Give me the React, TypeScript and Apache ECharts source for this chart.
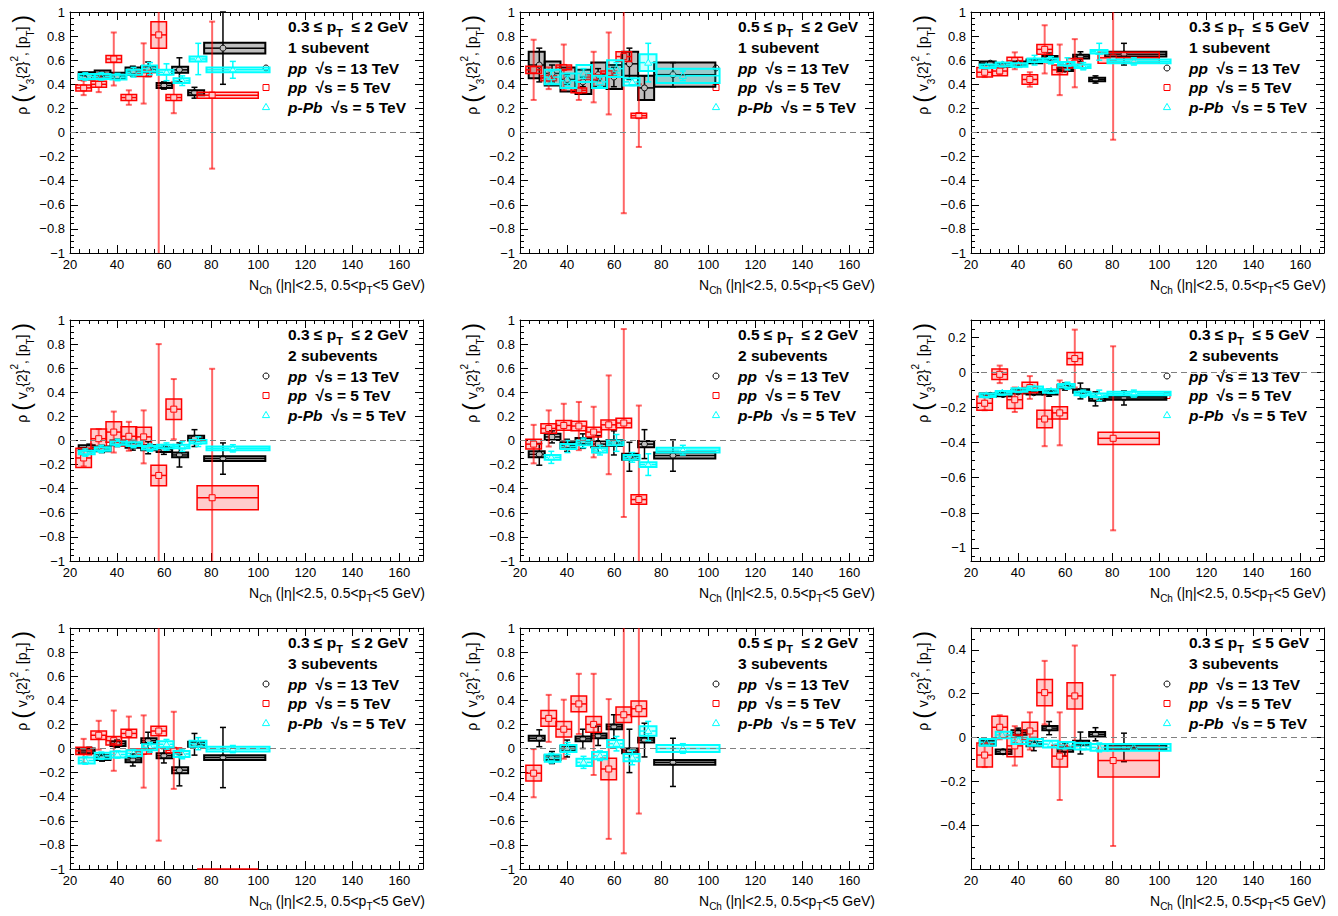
import React, { useEffect, useRef } from 'react';
import * as echarts from 'echarts';

const FONT = '"Liberation Sans", Arial, Helvetica, sans-serif';

// ---------- x positions / bins ----------
const X_PP13 = [28.2, 33.6, 40, 46.7, 53.2, 59.9, 66.5, 72.9, 85];
const BINS_PP13 = [23.7, 30.5, 37.2, 43.6, 50.3, 56.8, 63.4, 70.2, 77, 103];

const X_PP5_A = [25.8, 32.2, 38.6, 45, 51.3, 57.7, 64.1, 80.4];
const LO_PP5_A = [22.5, 28.9, 35.3, 41.7, 48, 54.4, 60.8, 74];
const HI_PP5_A = [29.1, 35.5, 41.9, 48.3, 54.6, 61, 67.4, 100];
const X_PP5_B = [25.8, 32.2, 38.6, 45, 51.3, 57.7, 64.1, 70.5];
const LO_PP5_B = [22.5, 28.9, 35.3, 41.7, 48, 54.4, 60.8, 67.2];
const HI_PP5_B = [29.1, 35.5, 41.9, 48.3, 54.6, 61, 67.4, 73.8];

const X_PPB_A = [26.5, 33.3, 40.2, 47, 54, 61, 67.7, 74.5, 89.2];
const BINS_PPB_A = [23.7, 30.5, 37.2, 44, 50.6, 57, 64, 70.8, 78, 104.8];
const X_PPB_B = [33.3, 40.2, 47, 54, 61, 67.7, 74.5, 89.2];
const BINS_PPB_B = [30.5, 37.2, 44, 50.6, 57, 64, 70.8, 78, 104.8];

// ---------- values: [rho, stat, syst] ----------
const P1_PP13 = [[0.47, 0.02, 0.03], [0.49, 0.02, 0.025], [0.47, 0.02, 0.025], [0.51, 0.04, 0.03], [0.525, 0.06, 0.025], [0.39, 0.03, 0.02], [0.52, 0.1, 0.025], [0.33, 0.045, 0.02], [0.7, 0.3, 0.045]];
const P1_PP5 = [[0.37, 0.06, 0.025], [0.4, 0.065, 0.025], [0.61, 0.22, 0.03], [0.29, 0.06, 0.025], [0.49, 0.25, 0.025], [0.81, 2, 0.11], [0.29, 0.13, 0.025], [0.31, 0.61, 0.025]];
const P1_PPB = [[0.465, 0.03, 0.02], [0.465, 0.03, 0.02], [0.46, 0.03, 0.02], [0.5, 0.04, 0.02], [0.53, 0.05, 0.025], [0.5, 0.07, 0.02], [0.43, 0.04, 0.02], [0.61, 0.13, 0.02], [0.52, 0.07, 0.02]];

const P2_PP13 = [[0.56, 0.14, 0.11], [0.49, 0.07, 0.1], [0.44, 0.04, 0.1], [0.42, 0.04, 0.1], [0.48, 0.05, 0.1], [0.46, 0.08, 0.1], [0.57, 0.13, 0.1], [0.37, 0.1, 0.1], [0.48, 0.1, 0.1]];
const P2_PP5 = [[0.52, 0.25, 0.03], [0.45, 0.09, 0.02], [0.54, 0.19, 0.02], [0.35, 0.08, 0.02], [0.46, 0.21, 0.02], [0.49, 0.34, 0.02], [0.63, 1.3, 0.04], [0.14, 0.26, 0.02]];
const P2_PPB = [[0.46, 0.05, 0.06], [0.43, 0.04, 0.06], [0.49, 0.04, 0.07], [0.42, 0.04, 0.05], [0.53, 0.05, 0.07], [0.42, 0.03, 0.03], [0.58, 0.16, 0.07], [0.47, 0.04, 0.06]];

const P3_PP13 = [[0.575, 0.01, 0.015], [0.56, 0.01, 0.015], [0.575, 0.015, 0.015], [0.59, 0.02, 0.015], [0.62, 0.04, 0.015], [0.525, 0.02, 0.015], [0.63, 0.04, 0.015], [0.44, 0.03, 0.015], [0.65, 0.09, 0.02]];
const P3_PP5 = [[0.5, 0.04, 0.04], [0.51, 0.03, 0.04], [0.595, 0.07, 0.03], [0.44, 0.06, 0.04], [0.69, 0.2, 0.04], [0.52, 0.21, 0.04], [0.575, 0.2, 0.04], [0.62, 0.68, 0.045]];
const P3_PPB = [[0.55, 0.02, 0.015], [0.565, 0.02, 0.015], [0.56, 0.02, 0.015], [0.6, 0.04, 0.015], [0.6, 0.03, 0.015], [0.57, 0.05, 0.015], [0.55, 0.03, 0.015], [0.67, 0.07, 0.015], [0.59, 0.03, 0.015]];

const P4_PP13 = [[-0.06, 0.03, 0.02], [-0.07, 0.03, 0.02], [-0.02, 0.03, 0.02], [-0.04, 0.04, 0.02], [-0.06, 0.05, 0.02], [-0.075, 0.04, 0.02], [-0.12, 0.1, 0.02], [0.02, 0.07, 0.02], [-0.15, 0.13, 0.02]];
const P4_PP5 = [[-0.145, 0.07, 0.08], [0.015, 0.08, 0.08], [0.07, 0.17, 0.085], [0.035, 0.12, 0.08], [0.03, 0.22, 0.08], [-0.29, 1.09, 0.085], [0.26, 0.25, 0.085], [-0.475, 1.07, 0.1]];
const P4_PPB = [[-0.1, 0.03, 0.015], [-0.07, 0.03, 0.015], [-0.02, 0.03, 0.015], [-0.03, 0.03, 0.015], [-0.06, 0.03, 0.015], [-0.05, 0.03, 0.015], [-0.05, 0.04, 0.015], [-0.01, 0.04, 0.015], [-0.065, 0.03, 0.015]];

const P5_PP13 = [[-0.115, 0.09, 0.025], [0.03, 0.05, 0.025], [-0.04, 0.05, 0.025], [-0.005, 0.06, 0.025], [-0.03, 0.07, 0.025], [-0.02, 0.1, 0.025], [-0.135, 0.12, 0.025], [-0.03, 0.12, 0.025], [-0.125, 0.13, 0.025]];
const P5_PP5 = [[-0.03, 0.16, 0.04], [0.1, 0.15, 0.04], [0.125, 0.18, 0.04], [0.12, 0.2, 0.04], [0.07, 0.21, 0.04], [0.13, 0.41, 0.04], [0.145, 0.78, 0.04], [-0.49, 0.78, 0.04]];
const P5_PPB = [[-0.14, 0.05, 0.02], [-0.05, 0.05, 0.02], [-0.02, 0.04, 0.02], [-0.08, 0.04, 0.02], [-0.02, 0.07, 0.02], [-0.14, 0.04, 0.02], [-0.2, 0.09, 0.02], [-0.08, 0.04, 0.02]];

const P6_PP13 = [[-0.13, 0.01, 0.01], [-0.125, 0.01, 0.01], [-0.11, 0.015, 0.01], [-0.115, 0.015, 0.01], [-0.115, 0.02, 0.01], [-0.08, 0.02, 0.01], [-0.105, 0.045, 0.01], [-0.15, 0.04, 0.01], [-0.145, 0.04, 0.01]];
const P6_PP5 = [[-0.175, 0.04, 0.04], [-0.01, 0.05, 0.03], [-0.155, 0.07, 0.05], [-0.085, 0.065, 0.03], [-0.265, 0.155, 0.05], [-0.23, 0.185, 0.035], [0.08, 0.165, 0.035], [-0.375, 0.525, 0.035]];
const P6_PPB = [[-0.13, 0.01, 0.01], [-0.115, 0.01, 0.01], [-0.1, 0.015, 0.01], [-0.09, 0.015, 0.01], [-0.105, 0.015, 0.01], [-0.075, 0.02, 0.01], [-0.12, 0.02, 0.01], [-0.13, 0.03, 0.01], [-0.12, 0.02, 0.01]];

const P7_PP13 = [[-0.02, 0.03, 0.02], [-0.075, 0.03, 0.02], [0.04, 0.03, 0.02], [-0.095, 0.05, 0.02], [0.065, 0.07, 0.02], [-0.06, 0.06, 0.02], [-0.18, 0.13, 0.025], [0.035, 0.09, 0.02], [-0.075, 0.25, 0.02]];
const P7_PP5 = [[-0.02, 0.1, 0.03], [0.11, 0.12, 0.035], [0.065, 0.25, 0.035], [0.125, 0.14, 0.035], [-0.025, 0.3, 0.02], [0.145, 0.91, 0.04], [-0.015, 0.32, 0.02], [-1.5, 0.3, 0.1]];
const P7_PPB = [[-0.1, 0.03, 0.025], [-0.06, 0.03, 0.025], [-0.05, 0.03, 0.025], [-0.04, 0.03, 0.025], [0.01, 0.04, 0.025], [0.035, 0.04, 0.025], [-0.045, 0.04, 0.025], [0.04, 0.05, 0.025], [-0.005, 0.03, 0.02]];

const P8_PP13 = [[0.085, 0.07, 0.02], [-0.075, 0.05, 0.02], [0.0, 0.07, 0.02], [0.08, 0.08, 0.02], [0.105, 0.08, 0.02], [0.18, 0.1, 0.02], [-0.02, 0.18, 0.02], [0.07, 0.14, 0.02], [-0.115, 0.2, 0.02]];
const P8_PP5 = [[-0.205, 0.2, 0.065], [0.25, 0.195, 0.065], [0.16, 0.245, 0.065], [0.37, 0.25, 0.065], [0.2, 0.42, 0.065], [-0.17, 0.58, 0.09], [0.28, 1.15, 0.065], [0.33, 0.87, 0.065]];
const P8_PPB = [[-0.08, 0.04, 0.03], [0.0, 0.05, 0.03], [-0.115, 0.05, 0.03], [-0.06, 0.04, 0.03], [0.04, 0.06, 0.03], [-0.075, 0.06, 0.03], [0.145, 0.08, 0.04], [0.0, 0.04, 0.03]];

const P9_PP13 = [[-0.025, 0.01, 0.01], [-0.065, 0.01, 0.01], [0.023, 0.02, 0.01], [-0.03, 0.03, 0.01], [0.043, 0.03, 0.01], [-0.055, 0.03, 0.01], [-0.025, 0.05, 0.01], [0.015, 0.03, 0.01], [-0.045, 0.065, 0.01]];
const P9_PP5 = [[-0.08, 0.055, 0.055], [0.047, 0.055, 0.05], [-0.038, 0.09, 0.05], [0.03, 0.085, 0.04], [0.205, 0.145, 0.06], [-0.085, 0.2, 0.05], [0.19, 0.23, 0.06], [-0.105, 0.39, 0.075]];
const P9_PPB = [[-0.022, 0.01, 0.015], [0.012, 0.01, 0.015], [-0.015, 0.01, 0.015], [-0.022, 0.01, 0.015], [-0.03, 0.01, 0.015], [-0.035, 0.01, 0.015], [-0.04, 0.015, 0.015], [-0.045, 0.02, 0.015], [-0.045, 0.01, 0.015]];

// ---------- axes ----------
const X_MIN = 20;
const X_MAX = 170;
const X_MAJOR = [20, 40, 60, 80, 100, 120, 140, 160];
const Y_MAJOR_FULL = [-1, -0.8, -0.6, -0.4, -0.2, 0, 0.2, 0.4, 0.6, 0.8, 1];
const Y_MAJOR_P6 = [-1, -0.8, -0.6, -0.4, -0.2, 0, 0.2];
const Y_MAJOR_P9 = [-0.4, -0.2, 0, 0.2, 0.4];

const PT_RANGES = [['0.3', '2'], ['0.5', '2'], ['0.3', '5']];
const SUBEVENTS = ['1 subevent', '2 subevents', '3 subevents'];

const PANELS = [
  { row: 0, col: 0, yMin: -1, yMax: 1, yMajor: Y_MAJOR_FULL, pp13: P1_PP13, pp5: P1_PP5, ppb: P1_PPB },
  { row: 0, col: 1, yMin: -1, yMax: 1, yMajor: Y_MAJOR_FULL, pp13: P2_PP13, pp5: P2_PP5, ppb: P2_PPB },
  { row: 0, col: 2, yMin: -1, yMax: 1, yMajor: Y_MAJOR_FULL, pp13: P3_PP13, pp5: P3_PP5, ppb: P3_PPB },
  { row: 1, col: 0, yMin: -1, yMax: 1, yMajor: Y_MAJOR_FULL, pp13: P4_PP13, pp5: P4_PP5, ppb: P4_PPB },
  { row: 1, col: 1, yMin: -1, yMax: 1, yMajor: Y_MAJOR_FULL, pp13: P5_PP13, pp5: P5_PP5, ppb: P5_PPB },
  { row: 1, col: 2, yMin: -1.075, yMax: 0.3, yMajor: Y_MAJOR_P6, pp13: P6_PP13, pp5: P6_PP5, ppb: P6_PPB },
  { row: 2, col: 0, yMin: -1, yMax: 1, yMajor: Y_MAJOR_FULL, pp13: P7_PP13, pp5: P7_PP5, ppb: P7_PPB },
  { row: 2, col: 1, yMin: -1, yMax: 1, yMajor: Y_MAJOR_FULL, pp13: P8_PP13, pp5: P8_PP5, ppb: P8_PPB },
  { row: 2, col: 2, yMin: -0.6, yMax: 0.5, yMajor: Y_MAJOR_P9, pp13: P9_PP13, pp5: P9_PP5, ppb: P9_PPB },
];

// ---------- layout ----------
const GRID_LEFT = [70, 520, 971];
const GRID_TOP = [12, 320, 628];
const GW = 353;
const GH = 241;

const ST_PP13 = { color: '#000000', bar: '#000000', barW: 1.5, boxFill: 'rgba(0,0,0,0.25)', boxStroke: '#000000', boxLW: 2, marker: 'circle' };
const ST_PP5 = { color: '#ff0000', bar: 'rgba(255,0,0,0.6)', barW: 2, boxFill: 'rgba(255,0,0,0.2)', boxStroke: '#ff0000', boxLW: 1.5, marker: 'square' };
const ST_PPB = { color: '#00ffff', bar: '#00ffff', barW: 1.5, boxFill: 'rgba(0,255,255,0.2)', boxStroke: '#00ffff', boxLW: 2, marker: 'triangle' };

function minorValues(min: number, max: number, step: number, majors: number[]) {
  const out: number[] = [];
  const start = Math.ceil(min / step - 1e-9);
  const end = Math.floor(max / step + 1e-9);
  for (let k = start; k <= end; k++) {
    const v = Math.round(k * step * 1000) / 1000;
    if (!majors.some((m) => Math.abs(m - v) < 1e-6)) out.push(v);
  }
  return out;
}

const fmtY = (v: number) => {
  const s = String(Math.round(Math.abs(v) * 100) / 100);
  return v < -1e-9 ? '\u2212' + s : s;
};

function markerEl(kind: string, px: number, py: number, color: string) {
  const style = { fill: 'none', stroke: color, lineWidth: 1 };
  if (kind === 'circle') return { type: 'circle', shape: { cx: px, cy: py, r: 3 }, style };
  if (kind === 'square') return { type: 'rect', shape: { x: px - 3, y: py - 3, width: 6, height: 6 }, style };
  return { type: 'polygon', shape: { points: [[px, py - 3.6], [px - 3.6, py + 2.6], [px + 3.6, py + 2.6]] }, style };
}

function makeRender(st: any) {
  return (params: any, api: any) => {
    const cs = params.coordSys;
    const top = cs.y;
    const bot = cs.y + cs.height;
    const cl = (v: number) => Math.max(top, Math.min(bot, v));
    const x = api.value(0), y = api.value(1), stat = api.value(2), sys = api.value(3), lo = api.value(4), hi = api.value(5);
    const p = api.coord([x, y]);
    const px = p[0], py = p[1];
    const bx0 = api.coord([lo, y])[0];
    const bx1 = api.coord([hi, y])[0];
    const byT = cl(api.coord([x, y + sys])[1]);
    const byB = cl(api.coord([x, y - sys])[1]);
    const children: any[] = [];
    children.push({ type: 'rect', shape: { x: bx0, y: byT, width: bx1 - bx0, height: byB - byT }, style: { fill: st.boxFill, stroke: st.boxStroke, lineWidth: st.boxLW } });
    const inRange = py >= top && py <= bot;
    const r = 3.2;
    const lineStyle = { stroke: st.bar, lineWidth: st.barW };
    if (inRange) {
      children.push({ type: 'line', shape: { x1: bx0, y1: py, x2: px - r, y2: py }, style: { stroke: st.color, lineWidth: 1.5 } });
      children.push({ type: 'line', shape: { x1: px + r, y1: py, x2: bx1, y2: py }, style: { stroke: st.color, lineWidth: 1.5 } });
    }
    const eyT = api.coord([x, y + stat])[1];
    const eyB = api.coord([x, y - stat])[1];
    const cT = cl(eyT), cB = cl(eyB);
    if (inRange) {
      if (cT < py - r) children.push({ type: 'line', shape: { x1: px, y1: cT, x2: px, y2: py - r }, style: lineStyle });
      if (cB > py + r) children.push({ type: 'line', shape: { x1: px, y1: py + r, x2: px, y2: cB }, style: lineStyle });
    } else if (cB > cT) {
      children.push({ type: 'line', shape: { x1: px, y1: cT, x2: px, y2: cB }, style: lineStyle });
    }
    if (eyT >= top && eyT <= bot && eyT < py - r) children.push({ type: 'line', shape: { x1: px - 3, y1: eyT, x2: px + 3, y2: eyT }, style: lineStyle });
    if (eyB <= bot && eyB >= top && eyB > py + r) children.push({ type: 'line', shape: { x1: px - 3, y1: eyB, x2: px + 3, y2: eyB }, style: lineStyle });
    if (inRange) children.push(markerEl(st.marker, px, py, st.color));
    return { type: 'group', children };
  };
}

function buildData(xs: number[], vals: number[][], lo: number[], hi: number[]) {
  return xs.map((x, i) => [x, vals[i][0], vals[i][1], vals[i][2], lo[i], hi[i]]);
}

function buildOption() {
  const grid: any[] = [];
  const xAxis: any[] = [];
  const yAxis: any[] = [];
  const series: any[] = [];
  const graphic: any[] = [];
  const X_MINOR = minorValues(X_MIN, X_MAX, 4, X_MAJOR);
  const tl = { color: '#000', width: 1 };
  const labelStyle = { color: '#000', fontSize: 13, fontFamily: FONT };

  PANELS.forEach((p, gi) => {
    const left = GRID_LEFT[p.col];
    const top = GRID_TOP[p.row];
    grid.push({ left, top, width: GW, height: GH, outerBoundsMode: 'none', containLabel: false });
    const xb = xAxis.length;
    const yb = yAxis.length;
    const yMinor = minorValues(p.yMin, p.yMax, 0.05, p.yMajor);

    const xCommon = { type: 'value', gridIndex: gi, min: X_MIN, max: X_MAX, splitLine: { show: false } };
    xAxis.push(
      { ...xCommon, position: 'bottom', axisLine: { show: true, onZero: false, lineStyle: tl }, axisTick: { show: true, inside: true, length: 8, customValues: X_MAJOR, lineStyle: tl }, axisLabel: { show: true, customValues: X_MAJOR, margin: 5, ...labelStyle } },
      { ...xCommon, position: 'bottom', axisLine: { show: false, onZero: false }, axisTick: { show: true, inside: true, length: 4, customValues: X_MINOR, lineStyle: tl }, axisLabel: { show: false } },
      { ...xCommon, position: 'top', axisLine: { show: true, onZero: false, lineStyle: tl }, axisTick: { show: true, inside: true, length: 8, customValues: X_MAJOR, lineStyle: tl }, axisLabel: { show: false } },
      { ...xCommon, position: 'top', axisLine: { show: false, onZero: false }, axisTick: { show: true, inside: true, length: 4, customValues: X_MINOR, lineStyle: tl }, axisLabel: { show: false } },
    );
    const yCommon = { type: 'value', gridIndex: gi, min: p.yMin, max: p.yMax, splitLine: { show: false } };
    yAxis.push(
      { ...yCommon, position: 'left', axisLine: { show: true, onZero: false, lineStyle: tl }, axisTick: { show: true, inside: true, length: 8, customValues: p.yMajor, lineStyle: tl }, axisLabel: { show: true, customValues: p.yMajor, margin: 5, formatter: fmtY, ...labelStyle } },
      { ...yCommon, position: 'left', axisLine: { show: false, onZero: false }, axisTick: { show: true, inside: true, length: 4, customValues: yMinor, lineStyle: tl }, axisLabel: { show: false } },
      { ...yCommon, position: 'right', axisLine: { show: true, onZero: false, lineStyle: tl }, axisTick: { show: true, inside: true, length: 8, customValues: p.yMajor, lineStyle: tl }, axisLabel: { show: false } },
      { ...yCommon, position: 'right', axisLine: { show: false, onZero: false }, axisTick: { show: true, inside: true, length: 4, customValues: yMinor, lineStyle: tl }, axisLabel: { show: false } },
    );

    // zero reference line
    series.push({
      type: 'line', xAxisIndex: xb, yAxisIndex: yb, data: [], silent: true, symbol: 'none',
      markLine: { silent: true, symbol: ['none', 'none'], label: { show: false }, lineStyle: { color: '#808080', type: [6, 4], width: 1 }, data: [{ yAxis: 0 }] },
    });

    const colB = p.col === 1;
    const d13 = buildData(X_PP13, p.pp13, BINS_PP13.slice(0, -1), BINS_PP13.slice(1));
    const d5 = colB ? buildData(X_PP5_B, p.pp5, LO_PP5_B, HI_PP5_B) : buildData(X_PP5_A, p.pp5, LO_PP5_A, HI_PP5_A);
    const db = colB
      ? buildData(X_PPB_B, p.ppb, BINS_PPB_B.slice(0, -1), BINS_PPB_B.slice(1))
      : buildData(X_PPB_A, p.ppb, BINS_PPB_A.slice(0, -1), BINS_PPB_A.slice(1));
    [[d13, ST_PP13, 'pp 13 TeV'], [d5, ST_PP5, 'pp 5 TeV'], [db, ST_PPB, 'p-Pb 5 TeV']].forEach(([data, st, name]: any) => {
      series.push({ type: 'custom', name, xAxisIndex: xb, yAxisIndex: yb, silent: true, clip: false, encode: { x: 0, y: 1 }, data, renderItem: makeRender(st) });
    });

    // legend block
    const tx = left + 218;
    const mx = left + 196;
    const FS = 15.5;
    const rich = {
      b: { fontSize: FS, fontWeight: 'bold', fontFamily: FONT, fill: '#000' },
      bi: { fontSize: FS, fontWeight: 'bold', fontStyle: 'italic', fontFamily: FONT, fill: '#000' },
      bs: { fontSize: 11, fontWeight: 'bold', fontFamily: FONT, fill: '#000', verticalAlign: 'bottom', lineHeight: 24 },
    };
    const [lo, hi] = PT_RANGES[p.col];
    const lines = [
      [`{b|${lo} \u2264 p}{bs|T}{b|  \u2264 ${hi} GeV}`, 14],
      [`{b|${SUBEVENTS[p.row]}}`, 35],
      ['{bi|pp}{b|  \u221As = 13 TeV}', 56],
      ['{bi|pp}{b|  \u221As = 5 TeV}', 75.5],
      ['{bi|p-Pb}{b|  \u221As = 5 TeV}', 95],
    ];
    lines.forEach(([text, dy]: any) => {
      graphic.push({ type: 'text', x: tx, y: top + dy, silent: true, style: { text, rich, align: 'left', verticalAlign: 'middle', textAlign: 'left', textVerticalAlign: 'middle' } });
    });
    graphic.push({ type: 'group', silent: true, children: [
      markerEl('circle', mx, top + 56, ST_PP13.color),
      markerEl('square', mx, top + 75.5, ST_PP5.color),
      markerEl('triangle', mx, top + 95, ST_PPB.color),
    ] });

    // y title
    graphic.push({
      type: 'text', x: left - 48, y: top + 3, rotation: Math.PI / 2, silent: true,
      style: {
        text: '{r|\u03C1 }{p|(}{t| v}{s|3}{2}{u|2}{t|, [p}{s|T}{t|] }{p|)}',
        fontSize: 14, fontFamily: FONT, fill: '#000',
        align: 'right', verticalAlign: 'middle', textAlign: 'right', textVerticalAlign: 'middle',
        rich: {
          r: { fontSize: 14, fontFamily: FONT, fill: '#000' },
          p: { fontSize: 23, fontFamily: FONT, fill: '#000' },
          t: { fontSize: 14, fontFamily: FONT, fill: '#000' },
          s: { fontSize: 10, fontFamily: FONT, fill: '#000', verticalAlign: 'bottom', lineHeight: 26 },
          u: { fontSize: 10, fontFamily: FONT, fill: '#000', verticalAlign: 'top', lineHeight: 26 },
        },
      },
    });

    // x title
    graphic.push({
      type: 'text', x: left + GW + 2, y: top + GH + 32, silent: true,
      style: {
        text: '{t|N}{s|Ch}{t| (|\u03B7|<2.5, 0.5<p}{s|T}{t|<5 GeV)}',
        align: 'right', verticalAlign: 'middle', textAlign: 'right', textVerticalAlign: 'middle',
        rich: {
          t: { fontSize: 14, fontFamily: FONT, fill: '#000' },
          s: { fontSize: 10, fontFamily: FONT, fill: '#000', verticalAlign: 'bottom', lineHeight: 21 },
        },
      },
    });
  });

  return { animation: false, backgroundColor: '#ffffff', grid, xAxis, yAxis, series, graphic };
}

export default function App() {
  const ref = useRef<HTMLDivElement>(null);
  useEffect(() => {
    document.body.style.margin = '0';
    document.body.style.overflow = 'hidden';
    const chart = echarts.init(ref.current as HTMLDivElement, null, { renderer: 'svg' });
    chart.setOption(buildOption() as any);
    return () => chart.dispose();
  }, []);
  return <div ref={ref} style={{ width: 1338, height: 916 }} />;
}
